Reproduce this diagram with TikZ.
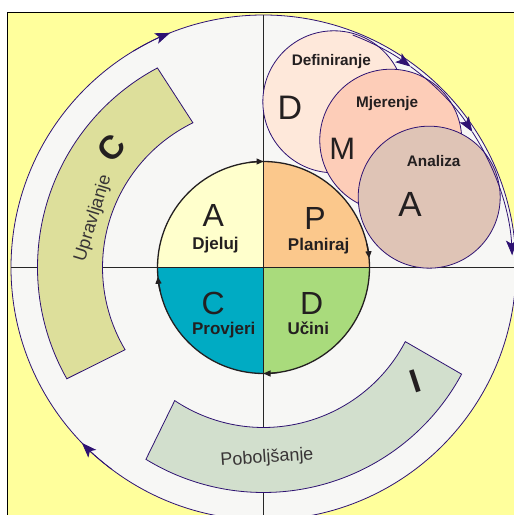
\documentclass[tikz,border=0pt]{standalone}
\usepackage{fontspec}
\setmainfont{Liberation Sans}
\usetikzlibrary{arrows.meta}
\definecolor{bgyellow}{HTML}{FFFF9C}
\definecolor{bigfill}{HTML}{F7F7F5}
\definecolor{purp}{HTML}{2E1272}
\definecolor{uprcol}{HTML}{DDDF9B}
\definecolor{pobcol}{HTML}{D2DFCD}
\definecolor{dcol}{HTML}{FEE8DA}
\definecolor{mcol}{HTML}{FDCDB8}
\definecolor{acol}{HTML}{DFC4B6}
\definecolor{qtl}{HTML}{FFFFCC}
\definecolor{qtr}{HTML}{FBC88C}
\definecolor{qbl}{HTML}{00ABC3}
\definecolor{qbr}{HTML}{A9DB7C}
\definecolor{txt}{HTML}{231F20}
\tikzset{
  bigletter/.style={font=\fontsize{32}{36}\selectfont, text=txt, inner sep=0pt, anchor=base},
  boldlabel/.style={font=\bfseries\fontsize{17}{20}\selectfont, text=txt, inner sep=0pt, anchor=base},
  dmalabel/.style={font=\bfseries\fontsize{15.3}{18}\selectfont, text=txt, inner sep=0pt, anchor=base},
  bandtext/.style={font=\fontsize{18}{20}\selectfont, text=txt!90, inner sep=0pt},
  bandletter/.style={font=\bfseries\fontsize{33}{36}\selectfont, text=txt, inner sep=0pt},
  band/.style={draw=purp, line width=0.8pt},
  dmacircle/.style={circle, draw=purp, line width=0.8pt, minimum size=142pt, inner sep=0pt, outer sep=0pt},
  axisline/.style={draw=black!85, line width=0.6pt},
  flow/.style={draw=purp, line width=0.8pt, -{Stealth[length=15pt,width=11pt,inset=3.5pt]}},
  innerflow/.style={draw=txt, line width=1.3pt, -{Triangle[length=7pt,width=6pt]}},
}
\begin{document}
\begin{tikzpicture}[x=1pt,y=1pt]
\useasboundingbox (0,0) rectangle (514,515);
\fill[white] (0,0) rectangle (514,515);
\begin{scope}
\clip (0,0) rectangle (514,515);
\fill[bgyellow] (7.5,-20) rectangle (540,502.5);
\draw[line width=1.6pt] (7.5,-20) -- (7.5,502.5) -- (540,502.5);
\begin{scope}[shift={(263.5,247.5)}]
  \coordinate (c) at (0,0);
  % big circle
  \node[circle, fill=bigfill, draw=purp, line width=0.8pt, minimum size=505pt, inner sep=0pt, outer sep=0pt] (big) at (c) {};
  % axes
  \draw[axisline] (big.north) -- (big.south);
  \draw[axisline] (big.west) -- (big.east);
  % bands
  \draw[band, fill=uprcol] (116:161) -- (118:226) arc[start angle=118, end angle=209.5, radius=226]
     -- (210.7:161) arc[start angle=210.7, end angle=116, radius=161] -- cycle;
  \draw[band, fill=pobcol] (236.3:160) -- (238.5:225) arc[start angle=238.5, end angle=331.7, radius=225]
     -- (332.4:160) arc[start angle=332.4, end angle=236.3, radius=160] -- cycle;
  \node[bandtext, rotate=73] (upr) at (-170.2,49.2) {Upravljanje};
  \node[bandletter, rotate=50] (cband) at (-151.8,119.2) {C};
  \node[bandtext, rotate=4] (pob) at (3.5,-190.5) {Poboljšanje};
  \node[bandletter, rotate=18] (iband) at (151.5,-114.2) {I};
  % DMA circles
  \node[dmacircle, fill=dcol] (dc) at (67:180) {};
  \node[dmacircle, fill=mcol] (mc) at (45:180) {};
  \node[dmacircle, fill=acol] (ac) at (23:180) {};
  \node[dmalabel] (def) at (67.8,201.5) {Definiranje};
  \node[bigletter, font=\fontsize{34}{36}\selectfont] (dl) at (26.5,147.5) {D};
  \node[dmalabel] (mje) at (123.7,160.2) {Mjerenje};
  \node[bigletter, font=\fontsize{31}{36}\selectfont] (ml) at (78.8,107.5) {M};
  \node[dmalabel] (ana) at (170.2,100.8) {Analiza};
  \node[bigletter, font=\fontsize{35}{36}\selectfont] (al) at (146.5,50.8) {A};
  % flow arrows (upper right)
  \coordinate (f0) at (69:249);
  \coordinate (f1) at (53.8:249);
  \coordinate (f2) at (33:249);
  \coordinate (f3) at (2.8:249);
  \draw[flow] (f0) arc[start angle=69, end angle=53.8, radius=249];
  \draw[flow] (f1) arc[start angle=53.8, end angle=33, radius=249];
  \draw[flow] (f2) arc[start angle=33, end angle=2.8, radius=249];
  % flow arrows on big circle
  \coordinate (g0) at (121:252.5);
  \coordinate (g1) at (233:252.5);
  \draw[flow] (g0) arc[start angle=121, end angle=111.7, radius=252.5];
  \draw[flow] (g1) arc[start angle=233, end angle=224, radius=252.5];
  % inner PDCA circle
  \fill[qtl] (c) -- (90:106) arc[start angle=90, end angle=180, radius=106] -- cycle;
  \fill[qtr] (c) -- (0:106) arc[start angle=0, end angle=90, radius=106] -- cycle;
  \fill[qbl] (c) -- (180:106) arc[start angle=180, end angle=270, radius=106] -- cycle;
  \fill[qbr] (c) -- (270:106) arc[start angle=270, end angle=360, radius=106] -- cycle;
  \node[circle, draw=txt, line width=1.3pt, minimum size=212pt, inner sep=0pt, outer sep=0pt] (pdca) at (c) {};
  \draw[txt, line width=1.3pt] (pdca.north) -- (pdca.south);
  \draw[txt, line width=1.3pt] (pdca.west) -- (pdca.east);
  \draw[innerflow] (98:106) arc[start angle=98, end angle=90, radius=106];
  \draw[innerflow] (13:106) arc[start angle=13, end angle=5, radius=106];
  \draw[innerflow] (278:106) arc[start angle=278, end angle=270, radius=106];
  \draw[innerflow] (193:106) arc[start angle=193, end angle=185, radius=106];
  \node[bigletter] (la) at (-50.2,40.8) {A};
  \node[boldlabel] (djeluj) at (-48,17.5) {Djeluj};
  \node[bigletter] (lp) at (51.5,37.5) {P};
  \node[boldlabel] (planiraj) at (55.2,16.8) {Planiraj};
  \node[bigletter] (lc) at (-50.2,-47.5) {C};
  \node[boldlabel] (provjeri) at (-39.7,-67.5) {Provjeri};
  \node[bigletter] (ld) at (48.2,-47.5) {D};
  \node[boldlabel] (ucini) at (44.8,-67.5) {Učini};
\end{scope}
\end{scope}
\end{tikzpicture}
\end{document}
